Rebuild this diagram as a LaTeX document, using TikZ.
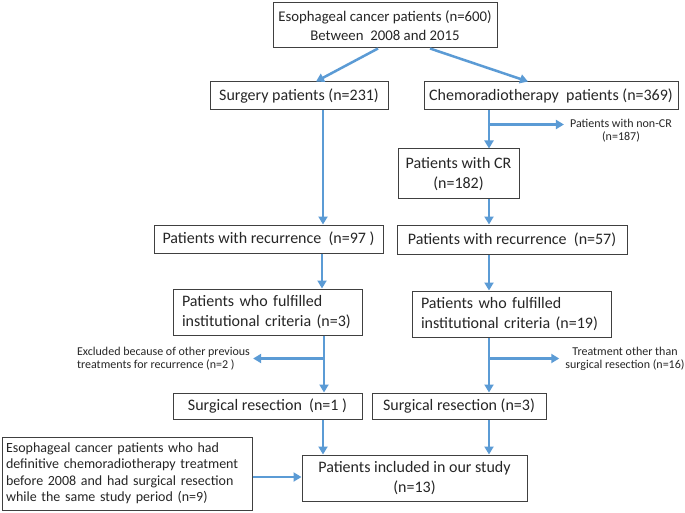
\documentclass[tikz,border=0pt]{standalone}
\usepackage{fontspec}
\setmainfont{Carlito}
\usetikzlibrary{arrows.meta}
\definecolor{arrowblue}{RGB}{91,155,213}
\definecolor{boxgray}{RGB}{64,64,64}
\begin{document}
\begin{tikzpicture}[x=1pt,y=-1pt,
  box/.style={draw=boxgray,line width=1pt,inner sep=0pt,align=center,
    font=\fontsize{16}{19.5}\selectfont,text=black!85},
  lbox/.style={box,align=left,inner xsep=9pt},
  lbl/.style={inner ysep=0pt,font=\fontsize{12}{13}\selectfont,text=black!85},
  arr/.style={draw=arrowblue,line width=2.5pt,-{Triangle[length=8pt,width=9pt]}}]
\useasboundingbox (0,0) rectangle (685,513);
\fill[white] (0,0) rectangle (685,513);

% boxes
\node[box,minimum width=224pt,minimum height=45pt,
  font=\fontsize{14.8}{19}\selectfont] (top) at (385,25.5)
  {Esophageal cancer patients (n=600)\\Between\ \ 2008 and 2015};
\node[box,minimum width=178pt,minimum height=28pt] (surg) at (299,96)
  {Surgery patients (n=231)};
\node[box,minimum width=254pt,minimum height=28pt] (chemo) at (551,96)
  {Chemoradiotherapy\ \ patients (n=369)};
\node[box,minimum width=121pt,minimum height=50pt] (cr) at (458.5,174)
  {Patients with CR\\(n=182)};
\node[box,minimum width=229pt,minimum height=28pt] (rec1) at (268.5,239)
  {Patients with recurrence\ \ (n=97 )};
\node[box,minimum width=230pt,minimum height=29pt] (rec2) at (512,239.5)
  {Patients with recurrence\ \ (n=57)};
\node[lbox,text width=171pt,minimum height=46pt,
  font=\fontsize{16}{20}\selectfont] (crit1) at (267.5,312)
  {Patients who fulfilled\\institutional criteria (n=3)};
\node[lbox,text width=181pt,minimum height=46pt,
  font=\fontsize{16}{20}\selectfont] (crit2) at (511.5,314)
  {Patients who fulfilled\\institutional criteria (n=19)};
\node[box,minimum width=189pt,minimum height=26pt] (sr1) at (267.5,406)
  {Surgical resection\ \ (n=1 )};
\node[box,minimum width=174pt,minimum height=26pt] (sr2) at (459,406)
  {Surgical resection (n=3)};
\node[box,minimum width=225pt,minimum height=46pt] (incl) at (414.5,478)
  {Patients included in our study\\(n=13)};
\node[lbox,text width=242pt,minimum height=73pt,inner xsep=4pt,
  font=\fontsize{14}{16.5}\selectfont] (pre) at (127,473.5)
  {Esophageal cancer patients who had\\definitive chemoradiotherapy treatment\\before 2008 and had surgical resection\\while the same study period (n=9)};

% side labels
\node[lbl,align=center,inner xsep=6pt] (noncr) at (621,131)
  {Patients with non-CR\\(n=187)};
\node[lbl,align=left,inner xsep=3pt] (excl) at (163.5,359)
  {Excluded because of other previous\\treatments for recurrence (n=2 )};
\node[lbl,align=center,inner xsep=6pt] (treat) at (625,358.5)
  {Treatment other than\\surgical resection (n=16)};

% connectors
\draw[arr] ([xshift=-7pt]top.south) -- ([xshift=17pt]surg.north);
\draw[arr] ([xshift=45pt]top.south) -- ([xshift=-23pt]chemo.north);

\draw[arr] ([xshift=24pt]surg.south) coordinate (s0) -- (s0 |- rec1.north);

\draw[arr] ([xshift=-62pt]chemo.south) coordinate (c0) -- (c0 |- cr.north);
\path (c0) ++(0,14) coordinate (b1);
\draw[arr] (b1) -- (b1 -| noncr.west);

\draw[arr] ([xshift=30.5pt]cr.south) coordinate (c1) -- (c1 |- rec2.north);

\draw[arr] ([xshift=53.5pt]rec1.south) coordinate (r1) -- (r1 |- crit1.north);
\draw[arr] ([xshift=-23pt]rec2.south) coordinate (r2) -- (r2 |- crit2.north);

\draw[arr] ([xshift=56.5pt]crit1.south) coordinate (k1) -- (k1 |- sr1.north);
\path (k1) ++(0,23) coordinate (b2);
\draw[arr] (b2) -- (b2 -| excl.east);

\draw[arr] ([xshift=-22.5pt]crit2.south) coordinate (k2) -- (k2 |- sr2.north);
\path (k2) ++(0,21) coordinate (b3);
\draw[arr] (b3) -- (b3 -| treat.west);

\draw[arr] ([xshift=55.5pt]sr1.south) coordinate (u1) -- (u1 |- incl.north);
\draw[arr] ([xshift=30pt]sr2.south) coordinate (u2) -- (u2 |- incl.north);

\draw[arr] ([yshift=-3.5pt]pre.east) coordinate (p0) -- (p0 -| incl.west);
\end{tikzpicture}
\end{document}
